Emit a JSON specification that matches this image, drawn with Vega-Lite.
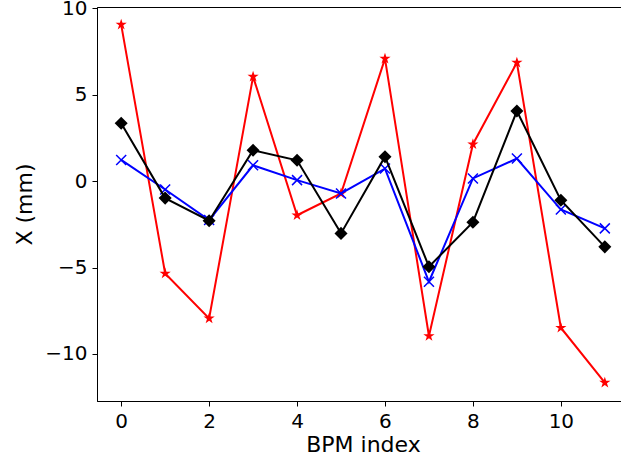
{
  "$schema": "https://vega.github.io/schema/vega-lite/v6.json",
  "autosize": "none",
  "width": 532,
  "height": 394,
  "padding": {"left": 97, "top": 7, "right": 0, "bottom": 59},
  "background": "white",
  "config": {
    "view": {"stroke": "black", "strokeWidth": 1},
    "font": "DejaVu Sans",
    "axis": {
      "grid": false,
      "domainColor": "black",
      "tickColor": "black",
      "labelColor": "black",
      "titleColor": "black",
      "labelFont": "DejaVu Sans",
      "titleFont": "DejaVu Sans",
      "labelFontSize": 20,
      "titleFontSize": 22,
      "titleFontWeight": "normal",
      "tickSize": 5,
      "labelPadding": 5
    }
  },
  "data": {
    "values": [
      {"bpm": 0, "red": 9.06, "blue": 1.23, "black": 3.35},
      {"bpm": 1, "red": -5.34, "blue": -0.48, "black": -0.98},
      {"bpm": 2, "red": -7.94, "blue": -2.25, "black": -2.29},
      {"bpm": 3, "red": 6.05, "blue": 0.92, "black": 1.79},
      {"bpm": 4, "red": -1.97, "blue": 0.06, "black": 1.21},
      {"bpm": 5, "red": -0.71, "blue": -0.71, "black": -3.02},
      {"bpm": 6, "red": 7.09, "blue": 0.73, "black": 1.42},
      {"bpm": 7, "red": -8.96, "blue": -5.82, "black": -4.95},
      {"bpm": 8, "red": 2.14, "blue": 0.16, "black": -2.37},
      {"bpm": 9, "red": 6.86, "blue": 1.31, "black": 4.06},
      {"bpm": 10, "red": -8.48, "blue": -1.64, "black": -1.1},
      {"bpm": 11, "red": -11.66, "blue": -2.73, "black": -3.8}
    ]
  },
  "encoding": {
    "x": {
      "field": "bpm", "type": "quantitative",
      "scale": {"domain": [-0.55, 11.55], "nice": false, "zero": false},
      "axis": {"values": [0, 2, 4, 6, 8, 10], "title": "BPM index", "titlePadding": 3}
    }
  },
  "layer": [
    {
      "mark": {"type": "line", "color": "#ff0000", "strokeWidth": 2},
      "encoding": {
        "y": {
          "field": "red", "type": "quantitative",
          "scale": {"domain": [-12.72, 10.08], "nice": false, "zero": false},
          "axis": {"values": [-10, -5, 0, 5, 10], "title": "X (mm)", "titlePadding": 8}
        }
      }
    },
    {
      "mark": {"type": "point", "shape": "M0,-1L0.224,-0.308L0.951,-0.309L0.361,0.117L0.588,0.809L0,0.38L-0.588,0.809L-0.361,0.117L-0.951,-0.309L-0.224,-0.308Z", "filled": true, "color": "#ff0000", "size": 140, "opacity": 1},
      "encoding": {"y": {"field": "red", "type": "quantitative"}}
    },
    {
      "mark": {"type": "line", "color": "#0000ff", "strokeWidth": 2},
      "encoding": {"y": {"field": "blue", "type": "quantitative"}}
    },
    {
      "mark": {"type": "point", "shape": "M-1,-1L1,1M-1,1L1,-1", "filled": false, "color": "#0000ff", "strokeWidth": 1.5, "size": 100, "opacity": 1},
      "encoding": {"y": {"field": "blue", "type": "quantitative"}}
    },
    {
      "mark": {"type": "line", "color": "black", "strokeWidth": 2},
      "encoding": {"y": {"field": "black", "type": "quantitative"}}
    },
    {
      "mark": {"type": "point", "shape": "diamond", "filled": true, "color": "black", "size": 170, "opacity": 1},
      "encoding": {"y": {"field": "black", "type": "quantitative"}}
    }
  ]
}
